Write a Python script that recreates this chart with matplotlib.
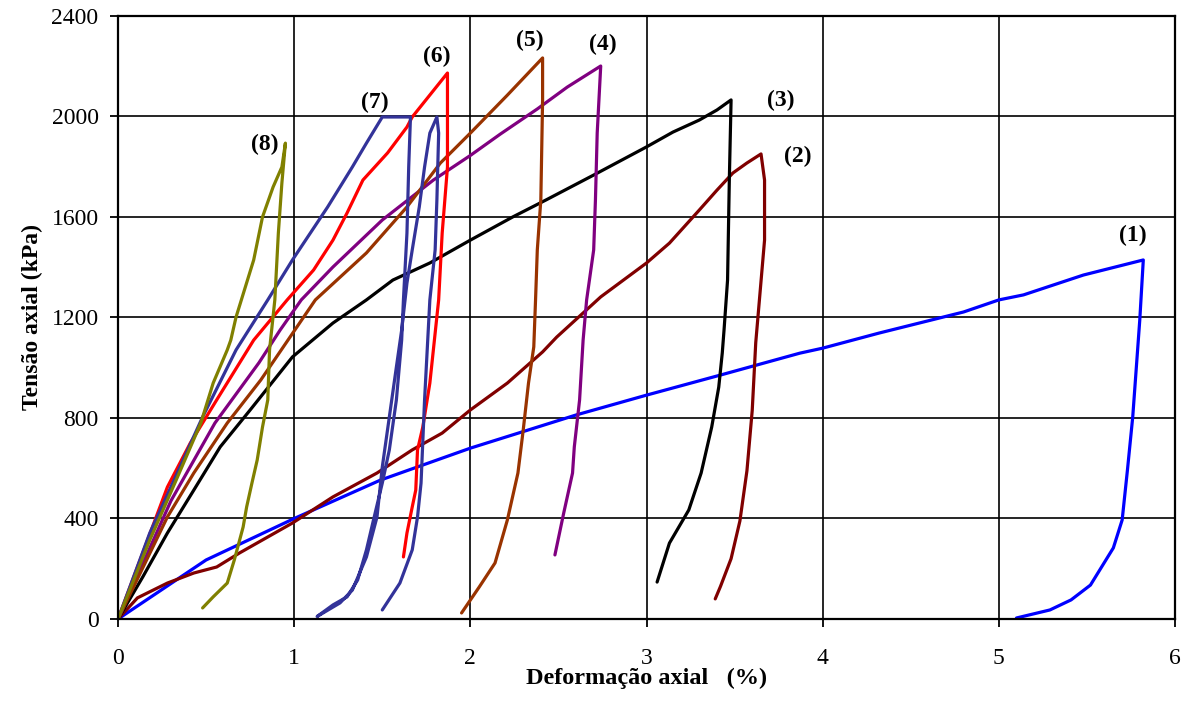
import numpy as np
import matplotlib
matplotlib.use("Agg")
import matplotlib.pyplot as plt

plt.rcParams['font.family'] = ['Liberation Serif', 'DejaVu Serif']

# curvas tensao x deformacao (ensaios 1 a 8)
x1 = [0, 0.5, 1.0, 1.49, 2.0, 2.6, 3.0, 3.42, 3.87, 4.0, 4.32, 4.80, 5.0, 5.14, 5.48, 5.82,
      5.80, 5.76, 5.73, 5.70, 5.65, 5.52, 5.41, 5.29, 5.10]
y1 = [0, 235, 400, 553, 680, 812, 891, 971, 1058, 1078, 1138, 1222, 1270, 1290, 1369, 1429,
      1190, 804, 593, 394, 283, 135, 76, 36, 4]

x2 = [0, 0.11, 0.28, 0.43, 0.56, 0.69, 0.99, 1.22, 1.47, 1.67, 1.84, 2.0, 2.21, 2.41, 2.49,
      2.74, 3.0, 3.13, 3.30, 3.40, 3.49, 3.57, 3.65, 3.67, 3.67, 3.62, 3.60, 3.57, 3.53, 3.48,
      3.42, 3.39]
y2 = [0, 84, 143, 183, 207, 263, 382, 486, 581, 673, 740, 832, 939, 1063, 1122,
      1282, 1417, 1496, 1628, 1707, 1775, 1815, 1851, 1747, 1508, 1100, 830, 590, 390, 240,
      130, 80]

x3 = [0, 0.14, 0.28, 0.43, 0.58, 0.75, 0.99, 1.22, 1.41, 1.56, 1.77, 2.0, 2.24, 2.43, 2.70,
      3.0, 3.15, 3.30, 3.40, 3.48, 3.47, 3.46, 3.44, 3.43, 3.41, 3.37, 3.31, 3.24, 3.13, 3.06]
y3 = [0, 167, 342, 513, 685, 832, 1043, 1178, 1270, 1349, 1417, 1508, 1600, 1668, 1767,
      1879, 1938, 1986, 2026, 2066, 1747, 1349, 1150, 1059, 923, 764, 581, 434, 302, 147]

x4 = [0, 0.3, 0.55, 0.8, 0.92, 1.04, 1.22, 1.50, 1.79, 2.0, 2.17, 2.38, 2.55, 2.74,
      2.72, 2.71, 2.70, 2.66, 2.64, 2.62, 2.59, 2.58, 2.53, 2.48]
y4 = [0, 470, 780, 1020, 1150, 1270, 1401, 1588, 1747, 1845, 1930, 2030, 2117, 2201,
      1934, 1668, 1469, 1270, 1110, 872, 685, 581, 422, 255]

x5 = [0, 0.28, 0.43, 0.62, 0.81, 1.12, 1.41, 1.64, 1.83, 2.0, 2.21, 2.41,
      2.41, 2.40, 2.38, 2.37, 2.36, 2.33, 2.30, 2.27, 2.21, 2.14, 2.05, 1.95]
y5 = [0, 406, 581, 780, 951, 1270, 1457, 1640, 1815, 1934, 2085, 2233,
      2066, 1668, 1469, 1270, 1083, 939, 752, 581, 394, 223, 127, 24]

x6 = [0, 0.28, 0.41, 0.56, 0.77, 0.96, 1.11, 1.22, 1.30, 1.39, 1.53, 1.64, 1.67, 1.87,
      1.87, 1.84, 1.82, 1.77, 1.73, 1.70, 1.69, 1.67, 1.64, 1.62]
y6 = [0, 525, 700, 872, 1110, 1270, 1389, 1508, 1616, 1747, 1855, 1958, 1998, 2173,
      1799, 1536, 1270, 939, 764, 673, 513, 446, 342, 247]

x7 = [0, 0.18, 0.31, 0.48, 0.67, 0.85, 0.99, 1.19, 1.33, 1.41, 1.50, 1.66,
      1.65, 1.64, 1.62, 1.61, 1.58, 1.54, 1.50, 1.45, 1.41, 1.36, 1.30, 1.22, 1.13,
      1.26, 1.33, 1.41, 1.47, 1.50, 1.54, 1.58, 1.61, 1.64, 1.67, 1.71, 1.74, 1.77, 1.81,
      1.82, 1.81, 1.80, 1.77, 1.74, 1.72, 1.70, 1.67, 1.60, 1.50]
y7 = [0, 342, 541, 804, 1071, 1270, 1429, 1640, 1799, 1894, 1998, 1998,
      1799, 1536, 1270, 1110, 872, 673, 541, 394, 275, 155, 88, 56, 10,
      64, 115, 247, 406, 605, 804, 1003, 1150, 1337, 1469, 1640, 1799, 1934, 1998,
      1934, 1668, 1469, 1270, 872, 541, 406, 275, 143, 36]

x8 = [0, 0.18, 0.33, 0.47, 0.54, 0.62, 0.64, 0.67, 0.70, 0.77, 0.82, 0.88, 0.93, 0.95,
      0.93, 0.91, 0.89, 0.86, 0.85, 0.82, 0.79, 0.76, 0.73, 0.71, 0.66, 0.62, 0.54, 0.48]
y8 = [0, 314, 553, 780, 939, 1071, 1110, 1202, 1270, 1429, 1600, 1719, 1799, 1894,
      1735, 1536, 1270, 1071, 872, 764, 633, 541, 446, 366, 235, 143, 88, 44]

labels = ['(1)', '(2)', '(3)', '(4)', '(5)', '(6)', '(7)', '(8)']
label_x = [5.76, 3.86, 3.76, 2.75, 2.34, 1.81, 1.46, 0.83]
label_y = [1525, 1839, 2062, 2285, 2304, 2237, 2054, 1890]

cores = ['#0000FF', '#800000', '#000000', '#800080', '#993300', '#FF0000', '#333399', '#808000']

fig = plt.figure(figsize=(11.9, 7.11), dpi=100)
ax = fig.add_axes([0.0992, 0.1294, 0.8882, 0.8481])

curvas = [(x1, y1), (x2, y2), (x3, y3), (x4, y4), (x5, y5), (x6, y6), (x7, y7), (x8, y8)]
for (xs, ys), c in zip(curvas, cores):
    ax.plot(xs, ys, color=c, lw=2.3, solid_joinstyle='round', solid_capstyle='round')

for lab, lx, ly in zip(labels, label_x, label_y):
    ax.text(lx, ly, lab, fontsize=17, fontweight='bold', ha='center', va='center')

ax.set_xlim(0, 6)
ax.set_ylim(0, 2400)
ax.set_xticks(np.arange(0, 7, 1))
ax.set_yticks(np.arange(0, 2401, 400))
ax.grid(True, color='black', lw=1.2)
ax.set_axisbelow(True)
for s in ax.spines.values():
    s.set_linewidth(1.6)
ax.tick_params(axis='both', direction='out', length=6, width=1.3, labelsize=17)
ax.tick_params(axis='x', pad=15)
ax.tick_params(axis='y', pad=8)

ax.set_xlabel('Deformação axial   (%)', fontsize=17.5, fontweight='bold', labelpad=-1)
ax.set_ylabel('Tensão axial (kPa)', fontsize=17, fontweight='bold', labelpad=6)

fig.savefig('out.png', dpi=100)
